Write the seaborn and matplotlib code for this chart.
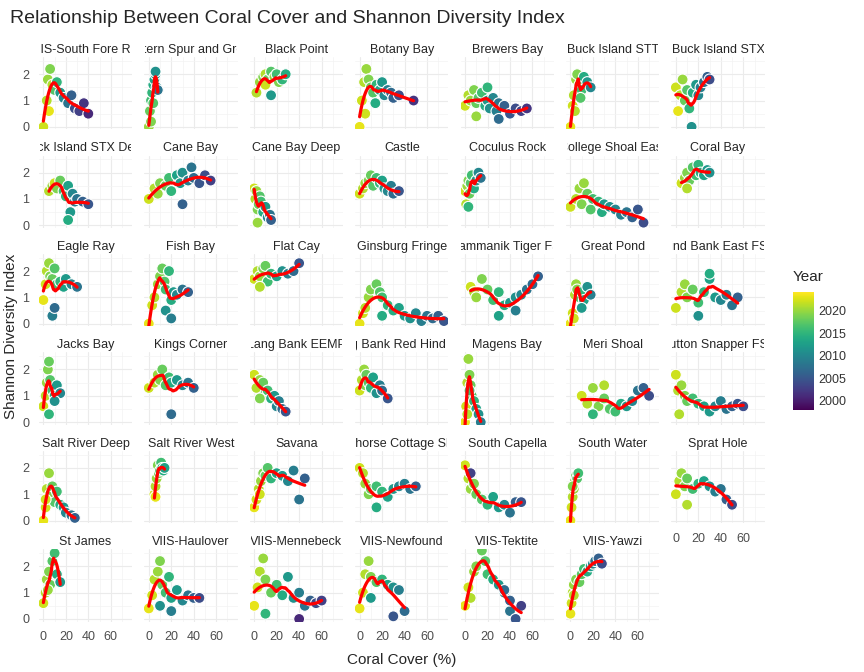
import numpy as np
import pandas as pd
import matplotlib
matplotlib.use("Agg")
import matplotlib.pyplot as plt
import seaborn as sns
from matplotlib.transforms import Bbox, TransformedBbox

sites = ["BUIS-South Fore Reef", "Western Spur and Groove", "Black Point", "Botany Bay", "Brewers Bay",
         "Buck Island STT", "Buck Island STX", "Buck Island STX Deep", "Cane Bay", "Cane Bay Deep",
         "Castle", "Coculus Rock", "College Shoal East", "Coral Bay", "Eagle Ray", "Fish Bay", "Flat Cay",
         "Ginsburg Fringe", "Grammanik Tiger FSA", "Great Pond", "Hind Bank East FSA", "Jacks Bay",
         "Kings Corner", "Lang Bank EEMP", "Lang Bank Red Hind FSA", "Magens Bay", "Meri Shoal",
         "Mutton Snapper FSA", "Salt River Deep", "Salt River West", "Savana", "Seahorse Cottage Shoal",
         "South Capella", "South Water", "Sprat Hole", "St James", "VIIS-Haulover", "VIIS-Mennebeck",
         "VIIS-Newfound", "VIIS-Tektite", "VIIS-Yawzi"]

cover = [
    [0,3,4,6,8,10,12,5,15,18,22,25,28,32,36,40],
    [0,1,2,3,4,5,6,7,8,2,4,6],
    [2,5,8,10,12,15,18,20,22,25,28,15,10],
    [0,2,4,6,8,10,12,15,18,20,22,25,28,30,35,48,5,14],
    [0,3,5,8,10,12,15,18,20,22,25,28,30,35,40,45,50,55,10,20,30],
    [0,2,3,5,6,8,10,12,15,18,4,9],
    [0,2,4,6,8,10,12,15,18,20,22,25,28,30,14],
    [5,8,10,12,15,18,20,22,24,26,28,30,35,40,22],
    [0,5,8,10,15,18,20,25,28,30,35,38,40,45,50,55,30],
    [0,1,2,3,4,5,6,8,10,12,14,15,3],
    [0,3,5,8,10,12,15,18,20,22,25,28,30,35],
    [0,1,2,3,4,5,6,8,10,12,14,3],
    [0,5,8,10,15,18,20,25,28,30,35,40,45,50,55,60,65,12],
    [5,8,10,12,15,18,20,22,25,28,30,10],
    [0,2,3,5,6,8,10,12,15,18,20,25,30,8,10],
    [0,3,5,8,10,12,14,15,18,20,22,25,30,35,15,20],
    [0,3,5,8,10,12,15,20,25,30,35,40,5],
    [0,3,5,8,10,15,18,20,25,30,35,40,45,50,55,60,65,70,75,20],
    [5,8,10,15,20,25,30,35,40,45,50,55,60,65,30,45],
    [0,2,4,5,6,8,10,12,15,18,3,10],
    [0,5,8,10,15,20,25,30,35,40,45,50,55,20,30],
    [0,2,3,4,5,6,8,10,12,15,5,10],
    [0,5,8,10,12,15,18,20,25,30,35,40,20],
    [0,2,5,8,10,12,15,18,20,22,25,28,5],
    [0,2,4,5,6,8,10,12,15,18,20,25],
    [0,1,2,3,4,5,6,8,10,12,14,2,4],
    [10,15,20,25,30,35,40,45,50,55,60,65,70,20,30],
    [0,2,5,8,10,15,20,25,30,35,40,45,50,55,60,3],
    [0,2,3,5,6,8,10,12,15,18,20,25,28,2],
    [5,6,7,8,9,10,11,12,13,14,6],
    [0,2,4,6,8,10,12,15,20,25,30,35,40,45,5],
    [0,3,5,8,10,15,20,25,30,35,40,45,50,15],
    [0,3,5,8,10,15,20,25,30,35,40,45,50,5],
    [0,1,2,3,4,5,6,7,2],
    [0,3,5,8,10,15,20,25,30,35,40,45,50,10],
    [0,2,3,5,6,8,10,12,15,4],
    [0,3,5,8,10,12,15,18,20,25,30,35,40,45,10,20],
    [0,3,5,8,10,15,20,25,30,35,40,45,50,55,60,10,40],
    [0,3,5,8,10,15,20,25,30,35,40,10,30],
    [0,3,5,8,10,15,18,20,25,30,35,40,45,50,35,40],
    [0,1,2,3,5,8,10,12,15,18,20,22,25,28,3],
]

diversity = [
    [0.0,1.0,1.8,2.2,1.6,1.4,1.7,0.6,1.3,1.1,0.9,1.2,0.7,0.6,0.9,0.5],
    [0.0,0.6,1.0,1.3,1.6,1.8,2.0,1.5,1.4,0.2,0.9,2.1],
    [1.3,1.7,1.9,2.0,1.8,2.1,1.9,2.0,1.7,1.8,2.0,1.2,1.6],
    [0.0,1.0,1.7,2.2,1.8,1.5,1.3,1.6,1.4,1.7,1.2,1.4,1.3,1.1,1.2,1.0,0.5,0.9],
    [0.8,1.2,1.0,1.4,0.9,1.1,1.3,0.8,1.0,0.7,1.1,0.6,0.9,0.8,0.5,0.7,0.6,0.7,0.4,1.5,0.3],
    [0.0,0.8,1.2,1.8,2.0,1.6,1.4,1.9,1.7,1.5,0.6,1.1],
    [1.5,0.6,1.2,1.8,1.0,1.4,0.7,1.3,1.6,1.2,1.5,1.7,1.9,1.8,0.0],
    [1.3,1.5,1.6,1.4,1.7,1.3,1.1,1.5,0.5,1.2,0.9,1.0,0.9,0.8,0.2],
    [1.0,1.4,1.2,1.6,1.5,1.8,1.3,1.9,1.6,2.0,1.7,2.2,1.8,1.6,1.9,1.7,0.8],
    [1.4,1.0,1.3,0.6,0.8,1.1,0.9,0.5,0.7,0.3,0.4,0.2,0.1],
    [1.2,1.4,1.6,1.7,1.9,1.5,1.8,1.6,1.7,1.4,1.3,1.5,1.2,1.3],
    [1.3,0.8,1.5,1.7,1.2,1.6,1.9,1.4,1.7,2.0,1.8,0.7],
    [0.7,1.0,1.4,0.8,1.2,0.6,1.0,0.9,0.5,0.8,0.7,0.6,0.4,0.5,0.3,0.6,0.1,1.6],
    [1.6,1.8,2.0,1.7,2.2,1.9,2.3,2.0,1.9,2.1,2.0,1.4],
    [0.9,1.5,2.0,2.3,1.8,1.7,2.1,1.5,1.6,1.4,1.7,1.5,1.4,0.3,0.6],
    [0.0,0.7,1.0,1.5,1.8,2.1,1.6,1.3,2.0,0.9,1.2,1.1,1.3,1.2,0.5,0.2],
    [1.7,2.0,1.8,2.1,2.2,1.6,1.9,1.8,2.0,1.9,2.0,2.3,1.4],
    [0.0,0.4,0.6,1.0,1.3,1.5,1.2,1.0,0.7,0.5,0.6,0.3,0.2,0.4,0.1,0.3,0.2,0.3,0.1,0.3],
    [1.4,1.2,1.0,1.7,1.3,0.9,1.2,0.7,0.8,1.0,1.1,1.3,1.5,1.8,0.3,0.5],
    [0.0,0.4,1.1,1.5,1.3,1.0,1.2,0.9,1.4,1.1,0.2,0.6],
    [0.6,1.2,1.5,1.0,1.3,0.8,1.2,1.7,1.0,0.9,1.1,0.7,1.0,0.3,1.9],
    [0.6,1.0,1.5,2.0,2.3,1.6,1.2,1.0,1.4,1.1,0.3,0.8],
    [1.3,1.5,1.8,1.6,2.0,1.4,1.7,1.5,1.6,1.4,1.5,1.3,0.3],
    [1.8,1.3,1.6,1.5,1.1,1.2,0.9,1.0,0.6,0.8,0.5,0.4,0.9],
    [1.2,1.6,2.0,1.4,1.8,1.5,1.3,1.7,1.1,1.4,1.2,0.9],
    [0.0,0.6,1.5,2.4,1.8,1.4,1.0,0.8,0.5,0.3,0.0,0.3,1.2],
    [1.0,0.7,1.3,0.6,0.9,0.5,0.4,0.7,0.6,0.8,1.2,1.3,1.0,0.3,1.4],
    [1.8,1.2,1.4,1.0,0.8,0.9,0.7,0.6,0.4,0.6,0.8,0.5,0.6,0.7,0.6,0.3],
    [0.0,0.5,1.2,1.8,1.0,1.3,0.7,1.1,0.6,0.5,0.3,0.2,0.1,0.8],
    [1.0,1.3,1.6,2.1,1.8,1.9,2.2,2.0,1.9,2.0,0.9],
    [0.5,0.8,1.2,1.5,1.8,1.7,2.0,1.6,1.8,1.7,1.5,1.9,0.8,1.6,1.0],
    [2.0,1.8,1.4,1.0,1.2,1.3,1.1,0.9,1.2,1.3,1.4,1.2,1.3,0.5],
    [2.1,1.6,1.2,1.4,1.0,0.8,0.6,0.9,0.5,0.6,0.3,0.7,0.7,1.8],
    [0.0,0.5,0.9,1.2,1.5,1.7,1.6,1.8,1.3],
    [1.0,1.5,1.8,1.3,1.6,1.2,1.4,1.5,1.3,1.1,1.2,0.8,0.6,0.6],
    [0.6,1.0,1.5,1.8,1.3,2.2,2.5,1.7,1.4,1.1],
    [0.4,0.9,1.5,1.8,2.2,1.3,1.0,1.6,0.8,1.1,0.7,0.9,0.8,0.8,0.5,0.3],
    [0.5,1.2,1.8,2.3,1.5,1.0,1.3,0.9,1.6,0.8,1.0,0.5,0.7,0.6,0.7,0.2,0.0],
    [0.4,1.0,1.7,2.2,1.6,1.4,1.5,1.3,1.2,1.1,0.3,0.8,0.1],
    [0.5,1.2,0.8,1.8,2.0,2.6,2.2,1.7,1.5,1.3,1.0,0.3,0.0,0.5,1.1,0.7],
    [0.2,0.6,1.0,1.3,1.5,1.4,1.7,1.9,1.8,2.0,2.1,2.2,2.3,2.1,0.9],
]

years = [
    [2022,2021,2020,2019,2021,2017,2015,2023,2012,2010,2008,2006,2004,2003,2002,2001],
    [2020,2018,2016,2015,2014,2013,2012,2010,2008,2019,2017,2011],
    [2021,2020,2019,2021,2018,2017,2020,2016,2019,2015,2014,2012,2022],
    [2023,2022,2021,2020,2019,2018,2017,2015,2013,2012,2010,2009,2007,2006,2004,2002,2022,2014],
    [2022,2021,2020,2019,2018,2017,2016,2014,2012,2011,2010,2009,2008,2006,2005,2004,2003,2002,2020,2015,2007],
    [2023,2022,2021,2020,2019,2018,2016,2014,2012,2010,2021,2017],
    [2022,2023,2021,2020,2018,2017,2015,2014,2012,2010,2009,2008,2006,2004,2011],
    [2021,2020,2022,2019,2018,2016,2015,2013,2012,2010,2009,2008,2006,2005,2014],
    [2022,2021,2020,2019,2018,2016,2015,2013,2012,2011,2009,2008,2007,2005,2004,2003,2006],
    [2022,2021,2020,2019,2018,2017,2016,2014,2012,2010,2008,2006,2020],
    [2022,2021,2020,2019,2018,2017,2016,2015,2013,2012,2010,2009,2007,2005],
    [2022,2021,2020,2019,2018,2017,2016,2014,2012,2010,2008,2015],
    [2022,2021,2020,2019,2018,2017,2016,2015,2014,2012,2011,2010,2009,2008,2006,2005,2004,2020],
    [2022,2020,2019,2018,2017,2016,2015,2014,2013,2012,2011,2021],
    [2023,2022,2021,2020,2019,2018,2017,2016,2015,2013,2012,2010,2008,2009,2007],
    [2023,2022,2021,2020,2019,2018,2017,2016,2015,2014,2012,2010,2008,2006,2011,2009],
    [2022,2021,2020,2019,2018,2016,2015,2013,2011,2009,2007,2005,2021],
    [2023,2022,2021,2020,2019,2018,2017,2016,2015,2014,2013,2012,2011,2010,2009,2008,2007,2006,2005,2014],
    [2022,2021,2020,2019,2018,2016,2015,2014,2012,2011,2010,2008,2007,2006,2013,2009],
    [2023,2022,2021,2020,2019,2017,2015,2013,2011,2009,2022,2012],
    [2022,2021,2020,2019,2018,2016,2015,2013,2012,2010,2009,2008,2006,2011,2014],
    [2022,2021,2020,2019,2018,2017,2016,2014,2012,2010,2015,2011],
    [2022,2021,2020,2019,2018,2017,2016,2014,2012,2010,2008,2006,2007],
    [2022,2021,2020,2018,2017,2016,2014,2012,2010,2009,2007,2005,2019],
    [2022,2021,2020,2019,2018,2017,2015,2013,2011,2009,2007,2005],
    [2023,2022,2021,2020,2019,2018,2017,2015,2013,2011,2009,2021,2016],
    [2022,2021,2020,2019,2018,2017,2016,2014,2012,2010,2008,2006,2004,2015,2021],
    [2022,2021,2020,2019,2018,2016,2015,2013,2012,2010,2009,2008,2006,2005,2004,2021],
    [2023,2022,2021,2020,2019,2018,2017,2016,2014,2012,2010,2008,2006,2022],
    [2022,2021,2020,2019,2018,2017,2016,2015,2014,2013,2023],
    [2023,2022,2021,2020,2019,2018,2017,2015,2013,2012,2010,2009,2008,2006,2022],
    [2022,2021,2020,2019,2018,2016,2015,2013,2012,2010,2009,2008,2006,2014],
    [2022,2021,2020,2019,2018,2017,2015,2013,2012,2010,2008,2006,2005,2003],
    [2023,2022,2021,2020,2019,2018,2017,2016,2019],
    [2022,2021,2020,2019,2018,2016,2015,2013,2011,2009,2008,2006,2004,2021],
    [2022,2021,2020,2019,2018,2017,2016,2014,2012,2020],
    [2023,2022,2021,2020,2019,2018,2016,2015,2013,2012,2010,2008,2006,2004,2011,2009],
    [2023,2022,2021,2020,2019,2018,2016,2014,2012,2011,2009,2008,2006,2004,2003,2015,2001],
    [2023,2022,2021,2020,2019,2017,2015,2013,2011,2009,2007,2012,2005],
    [2023,2022,2021,2020,2019,2018,2017,2016,2014,2012,2010,2008,2005,2003,2007,2006],
    [2023,2022,2021,2020,2019,2018,2017,2016,2014,2012,2010,2008,2006,2004,2021],
]


def loess(x, y, xs, span=0.75):
    # local quadratic fit with tricube weights, like geom_smooth's default
    x = np.asarray(x, float); y = np.asarray(y, float)
    k = max(int(np.ceil(span * len(x))), 3)
    out = []
    for x0 in xs:
        d = np.abs(x - x0)
        h = np.sort(d)[k - 1] + 1e-9
        w = np.clip(1 - (d / h) ** 3, 0, None) ** 3
        A = np.vstack([np.ones_like(x), x - x0, (x - x0) ** 2]).T
        W = np.sqrt(w)
        coef, *_ = np.linalg.lstsq(A * W[:, None], y * W, rcond=None)
        out.append(coef[0])
    return np.array(out)


sns.set_theme(style="whitegrid")
plt.rcParams['font.family'] = ['Liberation Sans', 'DejaVu Sans']
fig, axes = plt.subplots(6, 7, figsize=(8.64, 6.72), dpi=100, sharex=True, sharey=True)
fig.subplots_adjust(left=0.045, right=0.885, top=0.915, bottom=0.075, wspace=0.13, hspace=0.36)

norm = plt.Normalize(1998, 2024)
for i, ax in enumerate(axes.flat):
    if i >= len(sites):
        ax.set_visible(False)
        continue
    df = pd.DataFrame({'cover': cover[i], 'div': diversity[i], 'year': years[i]})
    sns.scatterplot(data=df, x='cover', y='div', hue='year', palette='viridis', hue_norm=norm,
                    s=62, edgecolor='white', linewidth=0.8, legend=False, ax=ax, zorder=3)
    xs = np.linspace(df['cover'].min(), df['cover'].max(), 80)
    sns.lineplot(x=xs, y=loess(df['cover'], df['div'], xs), color='red', linewidth=2.3, ax=ax, zorder=4)
    t = ax.set_title(sites[i], fontsize=9, pad=3)
    t.set_clip_box(TransformedBbox(Bbox([[0.01, 0], [0.99, 1.4]]), ax.transAxes))
    t.set_clip_on(True)
    ax.set_xlim(-4, 79)
    ax.set_ylim(-0.1, 2.65)
    ax.set_xticks([0, 20, 40, 60])
    ax.set_yticks([0, 1, 2])
    ax.set_xlabel('')
    ax.set_ylabel('')
    ax.tick_params(labelsize=9, colors='#4d4d4d', pad=1)
    ax.grid(True, color='#ebebeb', linewidth=0.8)
    ax.set_xticks([10, 30, 50, 70], minor=True)
    ax.set_yticks([0.5, 1.5, 2.5], minor=True)
    ax.grid(True, which='minor', color='#f3f3f3', linewidth=0.5)
    for sp in ax.spines.values():
        sp.set_visible(False)

# x tick labels on the bottom panel of the last column
axes[4, 6].xaxis.set_tick_params(labelbottom=True)

fig.suptitle('Relationship Between Coral Cover and Shannon Diversity Index', x=0.012, y=0.985,
             ha='left', fontsize=14)
fig.supxlabel('Coral Cover (%)', x=0.465, y=0.008, fontsize=11)
fig.supylabel('Shannon Diversity Index', x=0.005, y=0.5, fontsize=11)

cax = fig.add_axes([0.918, 0.39, 0.024, 0.175])
sm = plt.cm.ScalarMappable(cmap='viridis', norm=norm)
cb = fig.colorbar(sm, cax=cax, ticks=[2000, 2005, 2010, 2015, 2020])
cb.outline.set_visible(False)
cb.ax.tick_params(labelsize=9, length=0, colors='#333333')
cax.set_title('Year', fontsize=11, loc='left', pad=8)

fig.savefig('out.png', dpi=100, facecolor='white')
